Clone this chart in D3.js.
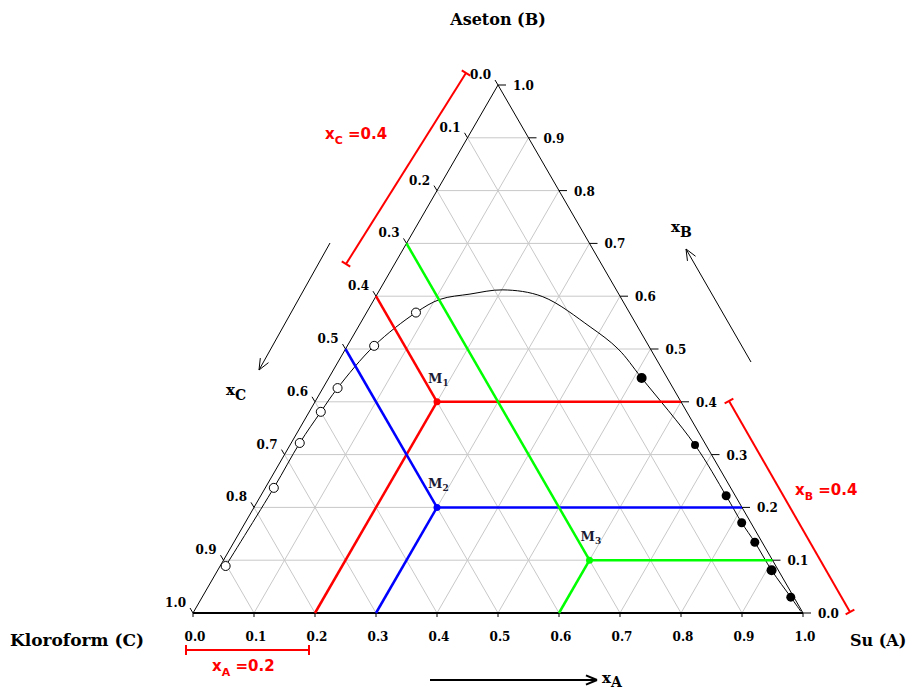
<!DOCTYPE html>
<html lang="tr">
<head>
<meta charset="UTF-8" />
<title>Aseton - Kloroform - Su</title>
<script src="https://d3js.org/d3.v7.min.js"></script>
<style>
body{margin:0;background:#fff;}
text{font-family:"DejaVu Serif",serif;font-weight:bold;fill:#000;}
.grid{stroke:#c8c8c8;stroke-width:1;fill:none;}
.edge{stroke:#000;stroke-width:1;fill:none;}
.red{fill:#ff0000;font-family:"DejaVu Sans",sans-serif;font-weight:bold;}
</style>
</head>
<body>
<script>
var width=909, height=692;

// tick values / labels (same on all three sides)
var tickVals=[0,0.1,0.2,0.3,0.4,0.5,0.6,0.7,0.8,0.9,1.0];
var tickLabels=["0.0","0.1","0.2","0.3","0.4","0.5","0.6","0.7","0.8","0.9","1.0"];

// mixture points (xA, xB), xC = 1 - xA - xB
var mixNames=["M","M","M"];
var mixSubs=["1","2","3"];
var mixA=[0.2,0.3,0.6];
var mixB=[0.4,0.2,0.1];
var mixColors=["#ff0000","#0000ff","#00ff00"];

// chloroform rich phase (open circles)
var chloroA=[0.009,0.014,0.014,0.019,0.024,0.044,0.081];
var chloroB=[0.089,0.237,0.322,0.381,0.426,0.506,0.569];

// water rich phase (filled circles)
var waterA=[0.513,0.664,0.763,0.814,0.854,0.908,0.965];
var waterB=[0.445,0.318,0.222,0.171,0.134,0.081,0.030];
var waterR=[5,4,4.5,4.5,4.5,5,4.5];

// binodal curve
var curveA=[0.009,0.014,0.014,0.019,0.024,0.044,0.081,0.108,0.152,0.202,0.274,0.380,0.447,0.513,0.664,0.763,0.814,0.854,0.908,0.965,0.995];
var curveB=[0.089,0.237,0.322,0.381,0.426,0.506,0.569,0.594,0.604,0.612,0.599,0.542,0.500,0.445,0.318,0.222,0.171,0.134,0.081,0.030,0.003];

var sx=d3.scaleLinear().domain([0,1]).range([193,803]);
var sy=d3.scaleLinear().domain([0,1]).range([613,85]);
function P(a,b){ return [sx(a+b/2), sy(b)]; }

var svg=d3.select("body").append("svg").attr("width",width).attr("height",height);

function seg(g,p,q,cls,color,w){
  var l=g.append("line").attr("x1",p[0]).attr("y1",p[1]).attr("x2",q[0]).attr("y2",q[1]);
  if(cls) l.attr("class",cls);
  if(color) l.attr("stroke",color).attr("stroke-width",w||1);
  return l;
}

// grid
var grid=svg.append("g");
tickVals.slice(1,10).forEach(function(v){
  seg(grid,P(v,0),P(v,1-v),"grid");       // const xA
  seg(grid,P(0,v),P(1-v,v),"grid");       // const xB
  seg(grid,P(1-v,0),P(0,1-v),"grid");     // const xC
});

// edges
var tri=[P(0,0),P(1,0),P(0,1)];
seg(svg,tri[0],tri[2],"edge");
seg(svg,tri[1],tri[2],"edge");
seg(svg,tri[0],tri[1],null,"#000",2);

// ticks + labels
tickVals.forEach(function(v,i){
  var p=P(v,0);
  seg(svg,p,[p[0],p[1]+4],null,"#000",1);
  svg.append("text").attr("x",p[0]+2).attr("y",641).attr("text-anchor","middle")
    .style("font-size","12px").text(tickLabels[i]);
  var r=P(1-v,v);
  seg(svg,r,[r[0]+8,r[1]],null,"#000",1);
  svg.append("text").attr("x",r[0]+15).attr("y",r[1]+5)
    .style("font-size","12px").text(tickLabels[i]);
  var l=P(0,1-v);
  seg(svg,l,[l[0]-3,l[1]-5],null,"#000",1);
  svg.append("text").attr("x",l[0]-7).attr("y",l[1]-6).attr("text-anchor","end")
    .style("font-size","12px").text(tickLabels[i]);
});

// binodal curve
var curvePts=curveA.map(function(a,i){ return P(a,curveB[i]); });
svg.append("path").datum(curvePts)
  .attr("d",d3.line().curve(d3.curveCatmullRom.alpha(0.5)))
  .attr("fill","none").attr("stroke","#000").attr("stroke-width",1);

// mixture lines
mixA.forEach(function(a,i){
  var b=mixB[i], c=1-a-b, m=P(a,b);
  var g=svg.append("g");
  seg(g,m,P(a,0),null,mixColors[i],2.5);
  seg(g,m,P(1-b,b),null,mixColors[i],2.5);
  seg(g,m,P(0,1-c),null,mixColors[i],2.5);
  g.append("circle").attr("cx",m[0]).attr("cy",m[1]).attr("r",3.5).attr("fill",mixColors[i]);
  var t=g.append("text").attr("x",m[0]-9).attr("y",m[1]-19).style("font-size","13px").style("fill","#1a1a33");
  t.append("tspan").text(mixNames[i]);
  t.append("tspan").attr("dy",3).style("font-size","9px").text(mixSubs[i]);
});

// phase points
chloroA.forEach(function(a,i){
  var p=P(a,chloroB[i]);
  svg.append("circle").attr("cx",p[0]).attr("cy",p[1]).attr("r",4.5)
    .attr("fill","#fff").attr("stroke","#000").attr("stroke-width",1);
});
waterA.forEach(function(a,i){
  var p=P(a,waterB[i]);
  svg.append("circle").attr("cx",p[0]).attr("cy",p[1]).attr("r",waterR[i]).attr("fill","#000");
});

// arrows
function arrow(p,q,w){
  seg(svg,p,q,null,"#000",w);
  var ang=Math.atan2(q[1]-p[1],q[0]-p[0]), L=12, s=0.4;
  [ang+Math.PI-s, ang+Math.PI+s].forEach(function(t){
    seg(svg,q,[q[0]+L*Math.cos(t),q[1]+L*Math.sin(t)],null,"#000",w);
  });
}
arrow([330,243],[259,370],1);
arrow([751,362],[686,249],1);
arrow([430,680],[597,680],2);

function subLabel(x,y,main,sub,size,dy){
  var t=svg.append("text").attr("x",x).attr("y",y).style("font-size",size+"px");
  t.append("tspan").text(main);
  t.append("tspan").attr("dy",dy).style("font-size",(size-1)+"px").text(sub);
  return t;
}
subLabel(226,395,"x","C",15,5);
subLabel(671,232,"x","B",15,5);
subLabel(602,683,"x","A",15,4);

// red brackets
function bracket(p,q,label,lx,ly){
  var g=svg.append("g");
  seg(g,p,q,null,"#ff0000",2);
  var dx=q[0]-p[0], dy=q[1]-p[1], n=Math.hypot(dx,dy), nx=-dy/n*5, ny=dx/n*5;
  [p,q].forEach(function(e){ seg(g,[e[0]-nx,e[1]-ny],[e[0]+nx,e[1]+ny],null,"#ff0000",2); });
  var t=g.append("text").attr("x",lx).attr("y",ly).attr("class","red").style("font-size","15px");
  t.append("tspan").text("x");
  t.append("tspan").attr("dy",5).style("font-size","11px").text(label[0]);
  t.append("tspan").attr("dy",-5).text("\u00a0=" + label[1]);
}
bracket([466,73],[346,264],["C","0.4"],325,139);
bracket([729,401],[850,612],["B","0.4"],795,495);
bracket([186,650],[309,650],["A","0.2"],212,671);

// vertex labels
svg.append("text").attr("x",498).attr("y",25).attr("text-anchor","middle").style("font-size","16px").text("Aseton (B)");
svg.append("text").attr("x",10).attr("y",646).style("font-size","17px").text("Kloroform (C)");
svg.append("text").attr("x",850).attr("y",646).style("font-size","16px").text("Su (A)");
</script>
</body>
</html>
